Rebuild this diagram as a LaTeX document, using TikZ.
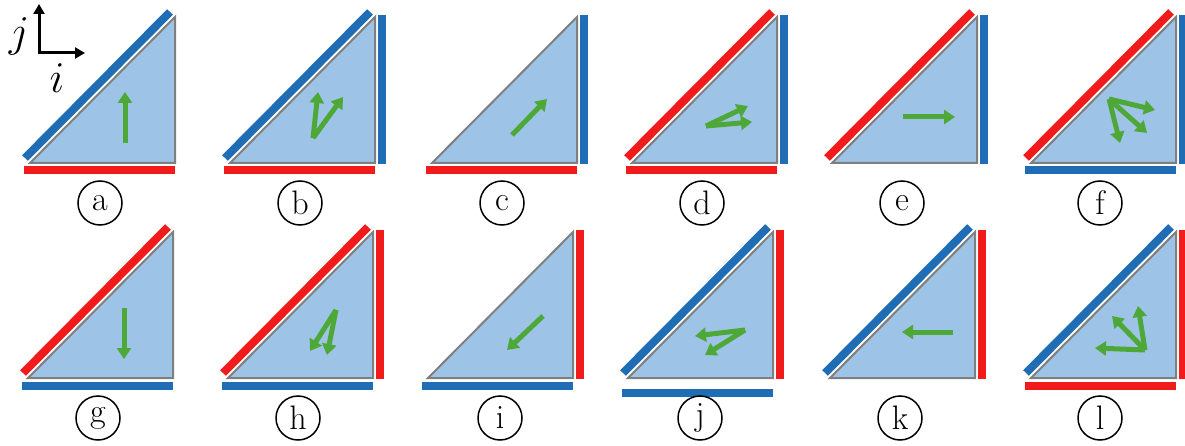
\RequirePackage{fix-cm}
\documentclass[tikz,border=0pt]{standalone}
\usetikzlibrary{arrows.meta}
\definecolor{barblue}{HTML}{1F6DB5}
\definecolor{barred}{HTML}{F21B1B}
\definecolor{trifill}{HTML}{9DC3E6}
\definecolor{trigray}{HTML}{7F7F7F}
\definecolor{arrgreen}{HTML}{4EA838}
\tikzset{
  trishape/.style={fill=trifill, draw=trigray, line width=2},
  barline/.style={line width=8},
  garrow/.style={draw=arrgreen, line width=5, line join=round, -{Triangle[width=14,length=11]}},
  lab/.style={circle, draw, line width=1.5, minimum size=44, inner sep=0pt, font=\fontsize{34}{34}\selectfont},
  axarrow/.style={line width=3, {Triangle[width=11,length=10]}-{Triangle[width=11,length=10]}}
}
% #1 x0, #2 y0, #3 hyp colour, #4 right colour, #5 bottom colour, #6 bottom offset
\newcommand{\tripanel}[6]{%
  \begin{scope}[shift={(#1,#2)}]
    \path[draw=#3, barline] (-5,-5) -- (140,-151);
    \path[draw=#4, barline] (152,1) -- (152,-148);
    \path[draw=#5, barline] (-6,#6) -- (145,#6);
    \path[trishape] (0,0) -- (145,0) -- (145,-146) -- cycle;
  \end{scope}}
\begin{document}
\begin{tikzpicture}[x=1pt,y=-1pt]
\useasboundingbox (0,0) rectangle (1185,446);
% row 1
\tripanel{30}{163}{barblue}{none}{barred}{7}
\tripanel{230}{163}{barblue}{barblue}{barred}{7}
\tripanel{432}{163}{none}{barblue}{barred}{7}
\tripanel{632}{163}{barred}{barblue}{barred}{7}
\tripanel{832}{163}{barred}{barblue}{none}{7}
\tripanel{1031}{163}{barred}{barblue}{barblue}{7}
% row 2
\tripanel{28}{378}{barred}{none}{barblue}{8}
\tripanel{228}{378}{barred}{barred}{barblue}{8}
\tripanel{428}{378}{none}{barred}{barblue}{8}
\tripanel{628}{378}{barblue}{barred}{barblue}{15}
\tripanel{830}{378}{barblue}{barred}{none}{8}
\tripanel{1031}{378}{barblue}{barred}{barred}{8}
% axes
\coordinate (ytip) at (39,4);
\coordinate (orig) at (39,53);
\coordinate (xtip) at (85,53);
\draw[axarrow] (ytip) -- (orig) -- (xtip);
\node (jl) at (19,36) {\fontsize{44}{44}\selectfont$j$};
\node (il) at (57,78) {\fontsize{44}{44}\selectfont$i$};
% arrows row 1
\coordinate (a0) at (125,143); \coordinate (a1) at (125,92);
\draw[garrow] (a0) -- (a1);
\coordinate (b0) at (313,138); \coordinate (b1) at (318,92); \coordinate (b2) at (343,97);
\draw[garrow] (b0) -- (b1); \draw[garrow] (b0) -- (b2);
\coordinate (c0) at (512,135); \coordinate (c1) at (547,99);
\draw[garrow] (c0) -- (c1);
\coordinate (d0) at (706,126); \coordinate (d1) at (748,106); \coordinate (d2) at (752,122);
\draw[garrow] (d0) -- (d1); \draw[garrow] (d0) -- (d2);
\coordinate (e0) at (903,117); \coordinate (e1) at (955,117);
\draw[garrow] (e0) -- (e1);
\coordinate (f0) at (1109,99); \coordinate (f1) at (1155,110); \coordinate (f2) at (1147,133); \coordinate (f3) at (1120,143);
\draw[garrow] (f0) -- (f1); \draw[garrow] (f0) -- (f2); \draw[garrow] (f0) -- (f3);
% arrows row 2
\coordinate (g0) at (124,308); \coordinate (g1) at (124,359);
\draw[garrow] (g0) -- (g1);
\coordinate (h0) at (336,310); \coordinate (h1) at (310,351); \coordinate (h2) at (327,355);
\draw[garrow] (h0) -- (h1); \draw[garrow] (h0) -- (h2);
\coordinate (i0) at (543,316); \coordinate (i1) at (507,350);
\draw[garrow] (i0) -- (i1);
\coordinate (j0) at (745,330); \coordinate (j1) at (695,336); \coordinate (j2) at (705,355);
\draw[garrow] (j0) -- (j1); \draw[garrow] (j0) -- (j2);
\coordinate (k0) at (953,332); \coordinate (k1) at (902,332);
\draw[garrow] (k0) -- (k1);
\coordinate (l0) at (1145,350); \coordinate (l1) at (1138,306); \coordinate (l2) at (1112,316); \coordinate (l3) at (1095,348);
\draw[garrow] (l0) -- (l1); \draw[garrow] (l0) -- (l2); \draw[garrow] (l0) -- (l3);
% labels
\node[lab] (la) at (100,203) {a};
\node[lab] (lb) at (300,203) {b};
\node[lab] (lc) at (502,203) {c};
\node[lab] (ld) at (702,203) {d};
\node[lab] (le) at (902,203) {e};
\node[lab] (lf) at (1100,203) {f};
\node[lab] (lg) at (98,418) {g};
\node[lab] (lh) at (298,418) {h};
\node[lab] (li) at (500,418) {i};
\node[lab] (lj) at (700,418) {j};
\node[lab] (lk) at (900,418) {k};
\node[lab] (ll) at (1100,418) {l};
\end{tikzpicture}
\end{document}
